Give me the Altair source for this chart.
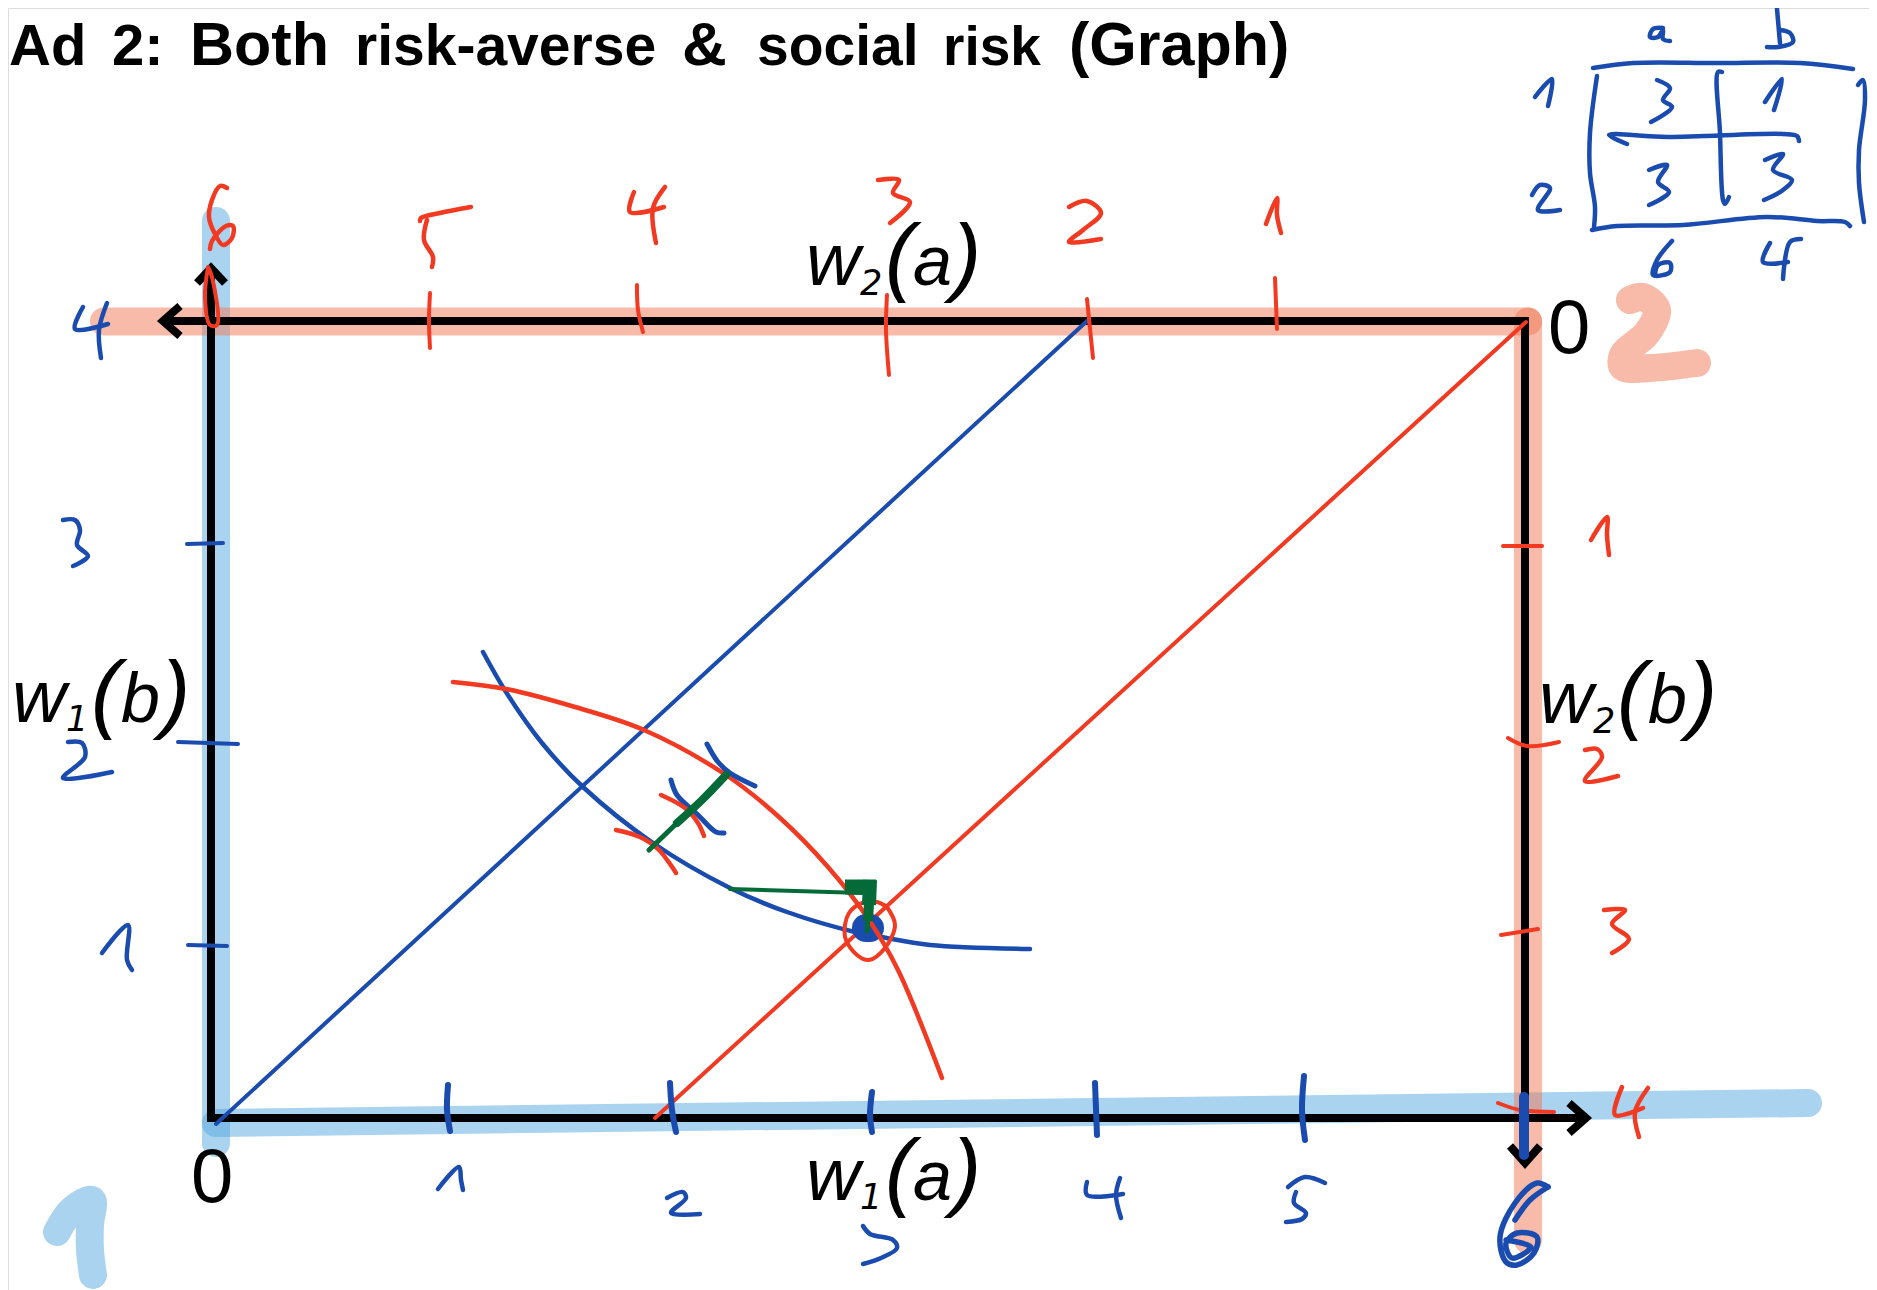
import altair as alt

PAGE_W, PAGE_H, MARGIN = 1877, 1290, 8

BLUE = "#1A4BAF"
RED = "#F23A22"
GREEN = "#046A38"
HL_BLUE = "#55A7DF"
HL_RED = "#F17753"

hl_blue = [
    [(216, 221), (216, 1143)],
    [(216, 1123), (1808, 1103)],
    [(57, 1232), (72, 1210), (92, 1200), (90, 1225), (90, 1250), (93, 1275)],
]
hl_red = [
    [(104, 321.5), (1528, 321.5)],
    [(1528, 321.5), (1528, 1240)],
    [(1630, 300), (1643, 297), (1657, 310), (1647, 333), (1623, 355), (1623, 367), (1650, 368), (1697, 363)],
]
axes_black = [
    [(211, 275), (211, 1118), (1580, 1118)],
    [(168, 321), (1525, 321), (1525, 1158)],
]
arrow_heads = [
    [(180, 306), (163, 321), (180, 336)],
    [(197, 283), (211, 268), (225, 283)],
    [(1569, 1103), (1586, 1118), (1569, 1133)],
    [(1510, 1146), (1525, 1163), (1540, 1146)],
]
top_ticks = [
    [(430, 293), (429, 320), (430, 348)],
    [(637, 285), (638, 310), (643, 332)],
    [(887, 295), (886, 330), (889, 375)],
    [(1087, 299), (1093, 358)],
    [(1275, 278), (1277, 329)],
    [(208, 267), (205, 297), (210, 325), (217, 325), (212, 277), (208, 267)],
]
top_digits = [
    [(227, 188), (220, 186), (212, 200), (209, 217), (214, 232), (223, 245), (232, 238), (233, 226), (226, 226), (212, 241), (210, 249)],
    [(471, 207), (440, 213), (421, 218), (420, 221)],
    [(427, 220), (424, 240), (433, 257), (432, 267)],
    [(634, 192), (630, 212), (664, 207)],
    [(665, 187), (653, 208), (656, 243)],
    [(878, 180), (899, 180), (893, 193), (910, 202), (890, 223)],
    [(1069, 207), (1087, 201), (1101, 213), (1083, 230), (1069, 242), (1101, 239)],
    [(1266, 224), (1277, 198), (1277, 215), (1281, 233)],
]
right_ticks = [
    [(1503, 546), (1542, 546)],
    [(1508, 738), (1527, 746), (1559, 742)],
    [(1501, 935), (1538, 929)],
    [(1498, 1103), (1520, 1110), (1554, 1112)],
]
right_digits = [
    [(1591, 540), (1607, 517), (1607, 535), (1609, 555)],
    [(1585, 750), (1597, 749), (1602, 757), (1585, 781), (1618, 776)],
    [(1604, 910), (1625, 910), (1612, 924), (1629, 939), (1612, 953)],
    [(1622, 1087), (1615, 1115), (1643, 1108)],
    [(1648, 1088), (1635, 1112), (1639, 1137)],
]
left_ticks = [
    [(187, 544), (223, 543)],
    [(178, 742), (238, 744)],
    [(188, 945), (227, 946)],
]
left_digits = [
    [(83, 307), (75, 329), (108, 324)],
    [(107, 303), (99, 330), (101, 358)],
    [(63, 520), (75, 520), (80, 530), (77, 545), (88, 556), (73, 566)],
    [(68, 742), (82, 743), (85, 757), (63, 778), (112, 772)],
    [(102, 953), (128, 925), (127, 960), (132, 970)],
]
bottom_ticks = [
    [(448, 1085), (447, 1110), (450, 1131)],
    [(670, 1083), (672, 1110), (676, 1132)],
    [(872, 1092), (870, 1115), (872, 1132)],
    [(1095, 1083), (1097, 1135)],
    [(1304, 1076), (1302, 1110), (1305, 1140)],
]
last_tick = [[(1524, 1097), (1524, 1155)]]
bottom_digits = [
    [(438, 1189), (459, 1167), (461, 1180), (463, 1190)],
    [(667, 1198), (683, 1192), (686, 1198), (671, 1213), (700, 1214)],
    [(863, 1226), (870, 1234), (893, 1240), (897, 1248), (881, 1258), (863, 1264)],
    [(1087, 1182), (1087, 1195), (1123, 1194)],
    [(1120, 1178), (1116, 1195), (1121, 1218)],
    [(1325, 1183), (1305, 1177), (1288, 1187)],
    [(1296, 1192), (1294, 1203), (1306, 1213), (1302, 1219), (1286, 1222)],
]
big_six = [
    [(1548, 1187), (1537, 1183), (1515, 1203), (1500, 1237), (1506, 1262), (1517, 1265), (1534, 1253), (1537, 1237),
     (1517, 1233), (1506, 1243), (1512, 1258), (1531, 1247), (1506, 1240)],
    [(1548, 1187), (1530, 1200), (1515, 1220)],
]
blue_diagonal = [[(216, 1124), (1087, 321)]]
red_diagonal = [[(655, 1118), (1526, 322)]]
blue_curve = [[(483, 652), (506, 692), (542, 743), (583, 787), (653, 843), (730, 888), (787, 912), (859, 933), (881, 937), (930, 945), (1030, 949)]]
red_curve = [[(453, 682), (506, 689), (575, 707), (644, 730), (726, 775), (779, 817), (828, 867), (869, 920), (898, 970), (942, 1078)]]
blue_small = [
    [(707, 744), (718, 762), (730, 773), (755, 786)],
    [(671, 780), (677, 795), (698, 815), (716, 832), (724, 833)],
]
red_small = [
    [(661, 795), (685, 808), (698, 823), (704, 836)],
    [(616, 830), (640, 837), (659, 850), (676, 873)],
]
green_thin = [[(730, 889), (863, 893)]]
green_bar_low = [[(649, 850), (677, 823)]]
green_bar_high = [[(677, 823), (702, 800), (726, 775)]]
green_block = [[(845, 887), (876, 887)]]
green_stem = [[(870, 880), (869, 905)]]
green_mid = [[(869, 903), (868, 921)]]
green_tip = [[(868, 918), (867, 931)]]
blue_dot = [[(866, 928), (870, 928)]]
red_ring = [[(887, 907), (895, 925), (885, 948), (869, 960), (857, 955), (845, 937), (849, 913), (865, 902), (877, 902), (887, 907)]]
table_lines = [
    [(1593, 68), (1633, 63), (1717, 63), (1800, 63), (1853, 69)],
    [(1597, 76), (1590, 133), (1590, 173), (1595, 207), (1594, 227)],
    [(1592, 230), (1617, 226), (1683, 225), (1767, 217), (1817, 221), (1845, 222), (1850, 226)],
    [(1858, 85), (1863, 80), (1865, 100), (1859, 150), (1859, 183), (1864, 222)],
    [(1722, 72), (1718, 72), (1720, 133), (1723, 200), (1725, 204), (1729, 197)],
    [(1627, 144), (1609, 135), (1667, 137), (1783, 134), (1797, 136), (1799, 141)],
]
table_digits = [
    [(1663, 28), (1653, 29), (1650, 37), (1658, 37), (1663, 30), (1663, 39), (1670, 41)],
    [(1777, 9), (1780, 43)],
    [(1780, 30), (1790, 33), (1793, 42), (1778, 47), (1767, 47)],
    [(1535, 97), (1552, 79), (1548, 106)],
    [(1532, 195), (1540, 185), (1550, 188), (1538, 210), (1560, 210)],
    [(1657, 80), (1670, 88), (1663, 100), (1672, 107), (1651, 122)],
    [(1765, 102), (1782, 79), (1774, 110)],
    [(1649, 170), (1667, 165), (1658, 182), (1669, 192), (1649, 205)],
    [(1765, 160), (1783, 154), (1773, 170), (1792, 180), (1783, 190), (1764, 200)],
    [(1672, 241), (1657, 260), (1653, 275), (1670, 272), (1670, 263), (1658, 265), (1655, 275)],
    [(1770, 243), (1763, 262), (1788, 262)],
    [(1801, 239), (1790, 242), (1783, 279)],
]

# text, x, baseline y, size, bold, italic, font
SANS = "Liberation Sans"
SUB = "DejaVu Sans"
title_words = [
    ("Ad", 9, 65, 58, True, False, SANS), ("2:", 112, 65, 58, True, False, SANS),
    ("Both", 190, 65, 61, True, False, SANS), ("risk-averse", 355, 65, 57, True, False, SANS),
    ("&", 682, 65, 62, True, False, SANS), ("social", 757, 65, 57, True, False, SANS),
    ("risk", 943, 65, 55, True, False, SANS), ("(Graph)", 1069, 65, 61, True, False, SANS),
]
origin_labels = [("0", 1548, 353, 76, False, False, SANS), ("0", 191, 1202, 76, False, False, SANS)]
math_labels = [
    ("w", 806, 285, 75, False, True, SANS), ("2", 860, 295, 35, False, True, SUB),
    ("(", 885, 285, 88, False, True, SANS), ("a", 913, 285, 70, False, True, SANS), (")", 952, 285, 88, False, True, SANS),
    ("w", 806, 1200, 75, False, True, SANS), ("1", 860, 1209, 35, False, True, SUB),
    ("(", 885, 1200, 88, False, True, SANS), ("a", 913, 1200, 70, False, True, SANS), (")", 952, 1200, 88, False, True, SANS),
    ("w", 12, 722, 75, False, True, SANS), ("1", 66, 731, 35, False, True, SUB),
    ("(", 91, 722, 88, False, True, SANS), ("b", 121, 722, 70, False, True, SANS), (")", 161, 722, 88, False, True, SANS),
    ("w", 1539, 723, 75, False, True, SANS), ("2", 1593, 733, 35, False, True, SUB),
    ("(", 1617, 723, 88, False, True, SANS), ("b", 1648, 723, 70, False, True, SANS), (")", 1688, 723, 88, False, True, SANS),
]

X = alt.Scale(domain=[MARGIN, PAGE_W - MARGIN], range=[0, PAGE_W - 2 * MARGIN], nice=False, zero=False)
Y = alt.Scale(domain=[PAGE_H, MARGIN], range=[PAGE_H - MARGIN, 0], nice=False, zero=False)


def strokes(groups, color, width, opacity=1.0, interpolate="catmull-rom", cap="round", join="round"):
    rows = [
        {"x": x, "y": y, "s": s, "i": i}
        for s, pts in enumerate(groups)
        for i, (x, y) in enumerate(pts)
    ]
    return (
        alt.Chart(alt.Data(values=rows))
        .mark_line(color=color, strokeWidth=width, opacity=opacity, interpolate=interpolate,
                   strokeCap=cap, strokeJoin=join, clip=False)
        .encode(
            x=alt.X("x:Q", scale=X, axis=None),
            y=alt.Y("y:Q", scale=Y, axis=None),
            detail="s:N",
            order="i:Q",
        )
    )


def texts(items):
    layers = []
    for t, x, y, size, bold, italic, font in items:
        layers.append(
            alt.Chart(alt.Data(values=[{"x": x, "y": y, "t": t}]))
            .mark_text(align="left", baseline="alphabetic", font=font, fontSize=size, color="black",
                       fontWeight="bold" if bold else "normal",
                       fontStyle="italic" if italic else "normal")
            .encode(x=alt.X("x:Q", scale=X, axis=None), y=alt.Y("y:Q", scale=Y, axis=None), text="t:N")
        )
    return layers


layers = [
    strokes(hl_blue, HL_BLUE, 28, 0.5, cap="round"),
    strokes(hl_red, HL_RED, 28, 0.5, cap="round"),
    strokes(axes_black, "black", 8, interpolate="linear", cap="butt", join="miter"),
    strokes(arrow_heads, "black", 8, interpolate="linear", cap="butt", join="miter"),
    *texts(title_words),
    *texts(origin_labels),
    *texts(math_labels),
    strokes(blue_diagonal, BLUE, 4),
    strokes(red_diagonal, RED, 4),
    strokes(blue_curve, BLUE, 4.5),
    strokes(blue_dot, BLUE, 28),
    strokes(red_curve, RED, 4.5),
    strokes(blue_small, BLUE, 5),
    strokes(red_small, RED, 4.5),
    strokes(red_ring, RED, 4),
    strokes(green_thin, GREEN, 4),
    strokes(green_bar_low, GREEN, 5),
    strokes(green_bar_high, GREEN, 8),
    strokes(green_block, GREEN, 15, cap="butt"),
    strokes(green_stem, GREEN, 14, cap="butt"),
    strokes(green_mid, GREEN, 10, cap="butt"),
    strokes(green_tip, GREEN, 5),
    strokes(top_ticks, RED, 4),
    strokes(top_digits, RED, 4.5),
    strokes(right_ticks, RED, 4),
    strokes(right_digits, RED, 4.5),
    strokes(left_ticks, BLUE, 4),
    strokes(left_digits, BLUE, 4.5),
    strokes(bottom_ticks, BLUE, 6),
    strokes(last_tick, BLUE, 10),
    strokes(bottom_digits, BLUE, 4.5),
    strokes(big_six, BLUE, 5.5),
    strokes(table_lines, BLUE, 4.5),
    strokes(table_digits, BLUE, 4.5),
]

chart = (
    alt.layer(*layers)
    .properties(width=PAGE_W - 2 * MARGIN, height=PAGE_H - MARGIN, padding=0,
                autosize=alt.AutoSizeParams(type="none"))
    .configure_view(stroke="transparent", strokeWidth=0)
    .configure(background="transparent")
)
chart.save("out.html", embed_options={"renderer": "svg", "actions": False})
